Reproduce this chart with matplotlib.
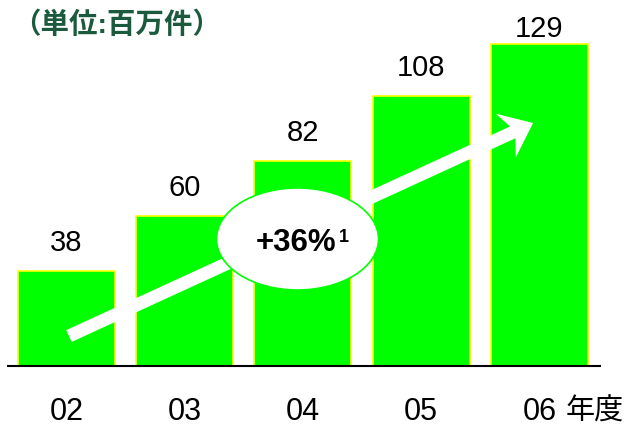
import matplotlib
matplotlib.use("Agg")
import matplotlib.pyplot as plt
from matplotlib.patches import Ellipse, FancyArrow
from matplotlib.transforms import IdentityTransform

plt.rcParams['font.family'] = ['Liberation Sans', 'Noto Sans CJK JP']

years = ['02', '03', '04', '05', '06']
counts = [38, 60, 82, 108, 129]
# the last label sits closer to its bar
label_gap = [10, 10, 10, 10, 0.5]

unit_text = '（単位:百万件）'
year_unit = '年度'
growth_text = '+36%'
growth_note = '1'

W, H = 629, 428
fig = plt.figure(figsize=(W / 100, H / 100), dpi=100)
ax = fig.add_axes([8 / W, 62 / H, 592 / W, 366 / H])

x = list(range(len(years)))
ax.bar(x, counts, width=0.82, color='#00ff00', edgecolor='#ffff00',
       linewidth=1.2, zorder=1)

for xi, v, g in zip(x, counts, label_gap):
    ax.annotate(str(v), (xi, v), xytext=(0, g), textcoords='offset points',
                ha='center', va='bottom', fontsize=21, color='black')

ax.set_xlim(-0.495, 4.513)
ax.set_ylim(0, 146.4)
ax.set_xticks(x)
ax.set_xticklabels(years, fontsize=22)
ax.tick_params(axis='x', length=0, pad=22)
ax.set_yticks([])
for s in ['top', 'left', 'right']:
    ax.spines[s].set_visible(False)
ax.spines['bottom'].set_linewidth(1.5)
ax.spines['bottom'].set_color('black')

# growth arrow, drawn in pixel space so the head keeps its shape
p0 = ax.transData.transform((0.021, 12))
p1 = ax.transData.transform((3.947, 97.2))
arrow = FancyArrow(p0[0], p0[1], p1[0] - p0[0], p1[1] - p0[1], width=13,
                   head_width=48, head_length=30, overhang=0.25,
                   length_includes_head=True, transform=IdentityTransform(),
                   facecolor='white', edgecolor='none', zorder=2)
ax.add_patch(arrow)

ell = Ellipse((1.954, 50.8), 1.371, 40.8, facecolor='white',
              edgecolor='#00ff00', linewidth=1.2, zorder=3)
ax.add_patch(ell)
ax.text(1.942, 49.1, growth_text, ha='center', va='center', fontsize=22.5,
        fontweight='bold', zorder=4)
ax.text(2.308, 55.0, growth_note, ha='left', va='top', fontsize=13,
        fontweight='bold', zorder=4)

fig.text(12 / W, 1 - 25 / H, unit_text, ha='left', va='center', fontsize=20.5,
         fontweight='bold', color='#1b5a3c')
fig.text(566 / W, 1 - 412 / H, year_unit, ha='left', va='center', fontsize=21)

fig.savefig('out.png', dpi=100)
